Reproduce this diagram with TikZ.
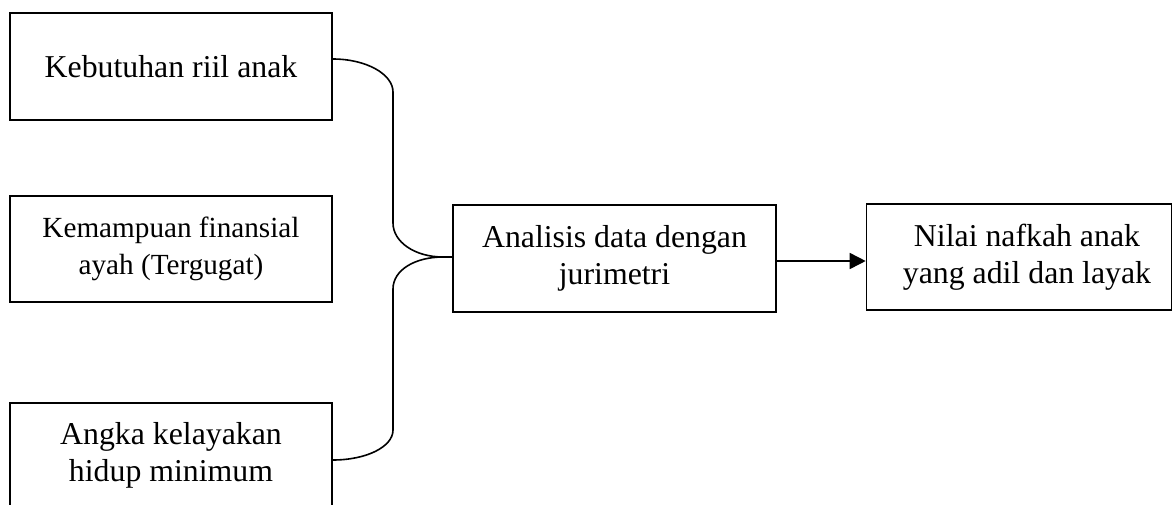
\documentclass[tikz,border=0pt]{standalone}
\usepackage{fontspec}
\setmainfont{Liberation Serif}
\usetikzlibrary{arrows.meta,calc}
\begin{document}
\begin{tikzpicture}[x=1pt,y=-1pt,
  box/.style={draw=black, line width=1.6pt, rectangle, inner sep=0pt, align=center,
    font=\fontsize{31.8}{37}\selectfont},
  smallbox/.style={box, font=\fontsize{29.2}{37}\selectfont},
  conn/.style={draw=black, line width=1.6pt},
  arrowline/.style={conn, -{Triangle[length=16pt,width=16pt]}}]
\useasboundingbox (0,0) rectangle (1173,504);
\clip (0,0) rectangle (1173,504);
\node[box, minimum width=322pt, minimum height=107pt] (b1) at (171,66.5) {Kebutuhan riil anak};
\node[smallbox, minimum width=322pt, minimum height=106pt] (b2) at (171,249) {Kemampuan finansial\\ayah (Tergugat)};
\node[box, minimum width=322pt, minimum height=104pt] (b3) at (171,455) {\raisebox{2.5pt}{Angka kelayakan}\\\raisebox{2.5pt}{hidup minimum}};
\node[box, minimum width=323pt, minimum height=107pt] (mid) at (614.5,258.5) {Analisis data dengan\\jurimetri};
\node[box, minimum width=305pt, minimum height=106pt] (rt) at (1019,257) {\hspace*{16pt}Nilai nafkah anak\\\hspace*{16pt}yang adil dan layak};
\coordinate (tip) at (443,257);
\path[conn] ([yshift=7.5pt]b1.east) .. controls (366,59) and (393,74) .. (393,92)
  -- (393,223) .. controls (393,242) and (415,257) .. (tip)
  -- ([yshift=1.5pt]mid.west);
\path[conn] (tip) .. controls (415,257) and (393,270) .. (393,289)
  -- (393,430) .. controls (393,447) and (366,460) .. ([yshift=-5pt]b3.east);
\path[arrowline] ([yshift=-2.5pt]mid.east) -- ([yshift=-2.5pt]mid.east -| rt.west);
\end{tikzpicture}
\end{document}
